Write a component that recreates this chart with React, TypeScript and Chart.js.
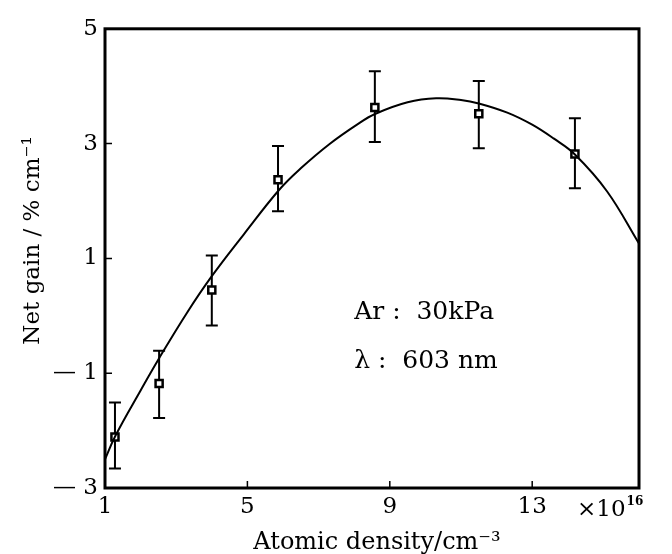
import { useEffect, useRef } from "react";
import { Chart, registerables } from "chart.js";

Chart.register(...registerables);

// Measured points (atomic density ×10^16 cm^-3, net gain %/cm)
const densityPoints = [1.28, 2.52, 4.0, 5.86, 8.58, 11.5, 14.2];
const gainPoints = [-2.11, -1.18, 0.45, 2.37, 3.63, 3.52, 2.82];
const gainUpper = [-1.51, -0.61, 1.05, 2.96, 4.26, 4.09, 3.44];
const gainLower = [-2.66, -1.78, -0.17, 1.82, 3.03, 2.92, 2.22];

// Fitted curve
const fitDensity = [1, 1.3, 2, 2.5, 3.3, 4, 4.9, 5.9, 6.5, 7.3, 8.1, 8.6, 9.5, 10.3, 11, 11.5, 12.3, 13, 13.6, 14.2, 15.1, 16];
const fitGain = [-2.5, -2.08, -1.3, -0.76, 0.05, 0.69, 1.42, 2.2, 2.57, 2.99, 3.34, 3.52, 3.72, 3.79, 3.76, 3.7, 3.54, 3.33, 3.09, 2.81, 2.17, 1.26];

const xTicks = [1, 5, 9, 13];
const yTicks = [-3, -1, 1, 3, 5];

const xTitle = "Atomic density/cm\u207B\u00B3";
const yTitle = "Net gain / % cm\u207B\u00B9";
const xMultiplier = "\u00D710";
const xExponent = "16";
const noteLines = ["Ar :  30kPa", "\u03BB :  603 nm"];
const noteAt = { x: 8.0, y: [0.05, -0.8] };

const FONT = "'DejaVu Serif', 'Liberation Serif', serif";

const decorPlugin = {
  id: "decor",
  beforeDatasetsDraw(chart: any) {
    const { ctx, scales } = chart;
    const x = scales.x;
    const y = scales.y;
    ctx.save();
    ctx.strokeStyle = "#000";
    ctx.lineWidth = 2;
    densityPoints.forEach((d, i) => {
      const px = x.getPixelForValue(d);
      const pt = y.getPixelForValue(gainUpper[i]);
      const pb = y.getPixelForValue(gainLower[i]);
      ctx.beginPath();
      ctx.moveTo(px, pt);
      ctx.lineTo(px, pb);
      ctx.moveTo(px - 6, pt);
      ctx.lineTo(px + 6, pt);
      ctx.moveTo(px - 6, pb);
      ctx.lineTo(px + 6, pb);
      ctx.stroke();
    });
    ctx.restore();
  },
  afterDraw(chart: any) {
    const { ctx, chartArea, scales } = chart;
    const { left, right, top, bottom } = chartArea;
    const x = scales.x;
    const y = scales.y;
    ctx.save();
    ctx.strokeStyle = "#000";
    ctx.lineWidth = 3;
    ctx.strokeRect(left, top, right - left, bottom - top);
    ctx.lineWidth = 1.5;
    ctx.beginPath();
    xTicks.forEach((v) => {
      if (v <= x.min || v >= x.max) return;
      const px = x.getPixelForValue(v);
      ctx.moveTo(px, bottom);
      ctx.lineTo(px, bottom - 7);
    });
    yTicks.forEach((v) => {
      if (v <= y.min || v >= y.max) return;
      const py = y.getPixelForValue(v);
      ctx.moveTo(left, py);
      ctx.lineTo(left + 7, py);
    });
    ctx.stroke();

    ctx.fillStyle = "#000";
    // x multiplier
    ctx.font = `23px ${FONT}`;
    ctx.textBaseline = "alphabetic";
    ctx.textAlign = "left";
    const mx = right - 62;
    const my = bottom + 28;
    ctx.fillText(xMultiplier, mx, my);
    const mw = ctx.measureText(xMultiplier).width;
    ctx.font = `bold 12px ${FONT}`;
    ctx.fillText(xExponent, mx + mw + 1, my - 11);

    // axis titles
    ctx.textAlign = "center";
    ctx.textBaseline = "middle";
    ctx.font = `24px ${FONT}`;
    ctx.fillText(xTitle, (left + right) / 2 + 5, bottom + 55);
    ctx.save();
    ctx.font = `23px ${FONT}`;
    ctx.translate(25, (top + bottom) / 2 - 18);
    ctx.rotate(-Math.PI / 2);
    ctx.fillText(yTitle, 0, 0);
    ctx.restore();

    // note
    ctx.font = `25px ${FONT}`;
    ctx.textAlign = "left";
    noteLines.forEach((t, i) => {
      ctx.fillText(t, x.getPixelForValue(noteAt.x), y.getPixelForValue(noteAt.y[i]));
    });
    ctx.restore();
  },
};

export default function App() {
  const ref = useRef<HTMLCanvasElement | null>(null);
  useEffect(() => {
    if (!ref.current) return;
    const chart = new Chart(ref.current, {
      type: "scatter",
      data: {
        datasets: [
          {
            type: "line",
            label: "fit",
            data: fitDensity.map((d, i) => ({ x: d, y: fitGain[i] })),
            borderColor: "#000",
            borderWidth: 2,
            pointRadius: 0,
            fill: false,
            tension: 0.4,
          },
          {
            type: "scatter",
            label: "measured",
            data: densityPoints.map((d, i) => ({ x: d, y: gainPoints[i] })),
            pointStyle: "rect",
            pointRadius: 5,
            pointBackgroundColor: "#fff",
            pointBorderColor: "#000",
            pointBorderWidth: 2.5,
          },
        ],
      } as any,
      options: {
        animation: false,
        responsive: true,
        maintainAspectRatio: false,
        layout: { padding: { top: 14, right: 25, left: 0, bottom: 0 } },
        plugins: { legend: { display: false }, tooltip: { enabled: false } },
        scales: {
          x: {
            type: "linear",
            min: 1,
            max: 16,
            afterBuildTicks: (s: any) => {
              s.ticks = xTicks.map((v) => ({ value: v }));
            },
            afterFit: (s: any) => {
              s.height = 66;
            },
            grid: { display: false, drawTicks: false },
            border: { display: false },
            ticks: {
              padding: 5,
              color: "#000",
              font: { family: FONT, size: 23 },
              maxRotation: 0,
              autoSkip: false,
            },
          },
          y: {
            type: "linear",
            min: -3,
            max: 5,
            afterBuildTicks: (s: any) => {
              s.ticks = yTicks.map((v) => ({ value: v }));
            },
            afterFit: (s: any) => {
              s.width = 97;
            },
            grid: { display: false, drawTicks: false },
            border: { display: false },
            ticks: {
              padding: 7,
              color: "#000",
              font: { family: FONT, size: 23 },
              callback: (v: any) => (v < 0 ? "\u2014 " + Math.abs(v) : String(v)),
            },
          },
        },
      },
      plugins: [decorPlugin],
    });
    return () => chart.destroy();
  }, []);
  return (
    <div style={{ width: 656, height: 546, position: "relative" }}>
      <canvas ref={ref} />
    </div>
  );
}
